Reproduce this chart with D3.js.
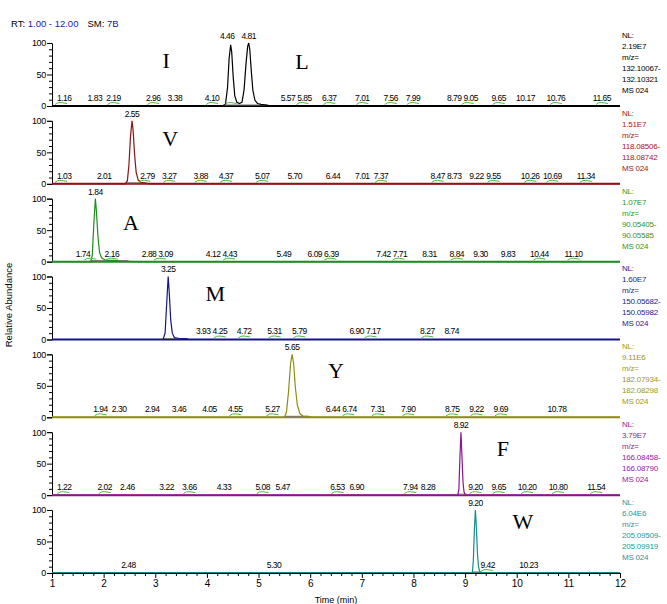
<!DOCTYPE html>
<html>
<head>
<meta charset="utf-8">
<script src="https://cdn.jsdelivr.net/npm/d3@7"></script>
<style>
  html, body { margin: 0; padding: 0; background: #fff; }
  svg { display: block; }
</style>
</head>
<body>
<svg id="chart" width="667" height="604" font-family="Liberation Sans, Arial, sans-serif"></svg>
<script>
// ---- extracted ion chromatograms, one per amino acid ----
const compounds = ["I/L", "V", "A", "M", "Y", "F", "W"];
const nlValues = ["2.19E7", "1.51E7", "1.07E7", "1.60E7", "9.11E6", "3.79E7", "6.04E6"];
const mzLow  = ["132.10067-", "118.08506-", "90.05405-", "150.05682-", "182.07934-", "166.08458-", "205.09509-"];
const mzHigh = ["132.10321", "118.08742", "90.05585", "150.05982", "182.08298", "166.08790", "205.09919"];
const scanType = "MS 024";

// trace points [retention time (min), relative abundance (%)]
const traceIL = [[1,0],[4.30,0],[4.36,3],[4.40,30],[4.43,75],[4.46,97],[4.48,86],[4.51,45],[4.54,16],[4.58,6],[4.63,4],[4.68,6],[4.72,26],[4.76,70],[4.79,95],[4.81,100],[4.83,90],[4.86,55],[4.89,25],[4.93,9],[4.98,4],[5.05,2.5],[5.15,1.5],[5.25,0],[12,0]];
const traceV  = [[1,0],[2.42,0],[2.46,5],[2.49,30],[2.52,75],[2.55,100],[2.57,86],[2.60,46],[2.63,18],[2.67,6],[2.72,2.5],[2.80,1],[2.90,0],[12,0]];
const traceA  = [[1,0],[1.75,0],[1.78,10],[1.81,60],[1.84,100],[1.86,80],[1.89,40],[1.92,15],[1.96,6],[2.02,3],[2.10,2],[2.20,2],[2.30,1],[2.45,0.5],[2.60,0],[12,0]];
const traceM  = [[1,0],[3.15,0],[3.19,10],[3.22,55],[3.25,100],[3.27,75],[3.30,30],[3.33,10],[3.37,3],[3.45,2],[3.60,1.5],[3.65,0],[12,0]];
const traceY  = [[1,0],[5.50,0],[5.54,8],[5.58,40],[5.62,85],[5.65,100],[5.68,85],[5.71,50],[5.75,20],[5.80,6],[5.86,2],[5.95,1.5],[6.05,0],[12,0]];
const traceF  = [[1,0],[8.86,0],[8.88,10],[8.90,60],[8.92,100],[8.94,60],[8.96,20],[8.98,5],[9.00,1],[9.05,0],[12,0]];
const traceW  = [[1,0],[9.14,0],[9.16,20],[9.18,70],[9.20,100],[9.22,70],[9.24,30],[9.26,10],[9.28,3],[9.32,0],[12,0]];
const traces = [traceIL, traceV, traceA, traceM, traceY, traceF, traceW];

// apex labels of the main peaks
const apexIL = ["4.46", "4.81"];
const apexV  = ["2.55"];
const apexA  = ["1.84"];
const apexM  = ["3.25"];
const apexY  = ["5.65"];
const apexF  = ["8.92"];
const apexW  = ["9.20"];
const apexes = [apexIL, apexV, apexA, apexM, apexY, apexF, apexW];

// minor peak labels along the baseline
const minorIL = ["1.16","1.83","2.19","2.96","3.38","4.10","5.57","5.85","6.37","7.01","7.56","7.99","8.79","9.05","9.65","10.17","10.76","11.65"];
const minorV  = ["1.03","2.01","2.79","3.27","3.88","4.37","5.07","5.70","6.44","7.01","7.37","8.47","8.73","9.22","9.55","10.26","10.69","11.34"];
const minorA  = ["1.74","2.16","2.88","3.09","4.12","4.43","5.49","6.09","6.39","7.42","7.71","8.31","8.84","9.30","9.83","10.44","11.10"];
const minorM  = ["3.93","4.25","4.72","5.31","5.79","6.90","7.17","8.27","8.74"];
const minorY  = ["1.94","2.30","2.94","3.46","4.05","4.55","5.27","6.44","6.74","7.31","7.90","8.75","9.22","9.69","10.78"];
const minorF  = ["1.22","2.02","2.46","3.22","3.66","4.33","5.08","5.47","6.53","6.90","7.94","8.28","9.20","9.65","10.20","10.80","11.54"];
const minorW  = ["2.48","5.30","9.42","10.23"];
const minors = [minorIL, minorV, minorA, minorM, minorY, minorF, minorW];

// detected peaks flagged with a marker
const flaggedIL = ["1.16","2.19","2.96","4.10","4.46","5.85","6.37","7.01","7.56","7.99","9.05","9.65","10.76","11.65"];
const flaggedV  = ["1.03","2.79","3.27","3.88","4.37","5.07","7.37","8.47","9.55","10.26","10.69","11.34"];
const flaggedA  = ["1.74","2.16","3.09","4.43","6.39","7.71","8.84","10.44","11.10"];
const flaggedM  = ["4.25","4.72","5.31","5.79","7.17","8.27"];
const flaggedY  = ["1.94","4.55","5.27","6.74","7.31","7.90","8.75","9.22","9.69"];
const flaggedF  = ["1.22","2.02","3.66","5.08","6.53","7.94","9.20","9.65","10.20","10.80","11.54"];
const flaggedW  = ["9.42"];
const flagged = [flaggedIL, flaggedV, flaggedA, flaggedM, flaggedY, flaggedF, flaggedW];

// compound letter placement in data units [rt, %]
const letterIL = [["I", 3.21, 60], ["L", 5.84, 59]];
const letterV  = [["V", 3.29, 60]];
const letterA  = [["A", 2.53, 50]];
const letterM  = [["M", 4.16, 61]];
const letterY  = [["Y", 6.50, 62]];
const letterF  = [["F", 9.73, 62]];
const letterW  = [["W", 10.12, 70]];
const letters = [letterIL, letterV, letterA, letterM, letterY, letterF, letterW];

const xTicks = [1,2,3,4,5,6,7,8,9,10,11,12];
const yTicks = [0, 50, 100];

// ---- styling ----
const lineColors = ["#000000", "#8e1414", "#1f8c1f", "#14148e", "#8e8e14", "#8e148e", "#148e8e"];
const textColors = ["#000000", "#a01818", "#2e9a22", "#1a1a9a", "#9a9a1c", "#9a1a9a", "#1a9a9a"];
const SANS = "Liberation Sans, Arial, sans-serif";
const SERIF = "Liberation Serif, Times New Roman, serif";

const svg = d3.select("#chart");
const left = 52, right = 620;
const firstZero = 106, pitch = 77.83, panelH = 63;

const x = d3.scaleLinear().domain([1, 12]).range([left, right]);

// compact label style used for retention-time annotations
function rtLabel(sel) {
  sel.attr("text-anchor", "middle")
     .attr("font-size", 8.5)
     .attr("letter-spacing", -0.5)
     .attr("fill", "#000");
}

// header
const hdr = svg.append("text").attr("x", 11).attr("y", 27).attr("font-size", 9.5);
hdr.append("tspan").attr("fill", "#000").text("RT: ");
hdr.append("tspan").attr("fill", "#1a1aa0").text("1.00 - 12.00");
hdr.append("tspan").attr("fill", "#000").attr("dx", 9).text("SM: ");
hdr.append("tspan").attr("fill", "#1a1aa0").text("7B");

compounds.forEach((name, i) => {
  const zero = firstZero + i * pitch;
  const y = d3.scaleLinear().domain([0, 100]).range([zero, zero - panelH]);
  const g = svg.append("g").attr("class", "panel").attr("data-compound", name);

  // y axis
  const yAxis = d3.axisLeft(y).tickValues(yTicks).tickSize(5).tickPadding(1);
  const ag = g.append("g").attr("transform", `translate(${left},0)`).call(yAxis);
  ag.attr("font-family", SANS);
  ag.select(".domain").attr("stroke", "#000");
  ag.selectAll("text").attr("font-size", 9).attr("letter-spacing", -0.3).attr("fill", "#000");
  const minorTicks = d3.axisLeft(y).tickValues(d3.range(10, 100, 10).filter(v => v !== 50)).tickSize(3).tickFormat("");
  g.append("g").attr("transform", `translate(${left},0)`).call(minorTicks).select(".domain").remove();

  // baseline
  g.append("line")
    .attr("x1", x(1)).attr("x2", x(12))
    .attr("y1", y(0)).attr("y2", y(0))
    .attr("stroke", lineColors[i]).attr("stroke-width", 2);

  // integration baseline under the main peak
  const pts = traces[i].filter(d => d[1] > 0);
  const x0 = d3.min(pts, d => d[0]) - 0.03, x1 = d3.max(pts, d => d[0]) + 0.03;
  g.append("line")
    .attr("x1", x(x0)).attr("x2", x(x1))
    .attr("y1", y(0) - 1).attr("y2", y(0) - 1)
    .attr("stroke", "#707070").attr("stroke-width", 1);

  // trace
  const line = d3.line().x(d => x(d[0])).y(d => y(d[1]));
  g.append("path").datum(traces[i])
    .attr("fill", "none")
    .attr("stroke", lineColors[i])
    .attr("stroke-width", 1.2)
    .attr("d", line);

  // flagged peak markers (kept inside the plot area)
  const flag = new Set(flagged[i]);
  const marks = minors[i].concat(apexes[i]).filter(l => flag.has(l));
  g.selectAll("path.flag").data(marks).join("path")
    .attr("class", "flag")
    .attr("fill", "none").attr("stroke", "#4cbb3c").attr("stroke-width", 1)
    .attr("d", l => {
      const cx = Math.max(x(+l), left + 9), by = y(0) - 1.5;
      return `M${cx - 6},${by} Q${cx - 3},${by - 2.5} ${cx},${by - 2} T${cx + 6},${by - 1}`;
    });

  // region occupied by the main peak (pixels), kept clear of baseline labels
  const tall = traces[i].filter(d => d[1] >= 5);
  const peakL = x(d3.min(tall, d => d[0])) - 1, peakR = x(d3.max(tall, d => d[0])) + 1;

  // minor labels, nudged clear of the axis, the peak and each other
  const minorSel = g.selectAll("text.minor").data(minors[i]).join("text")
    .attr("class", "minor")
    .attr("x", l => x(+l)).attr("y", y(0) - 5)
    .call(rtLabel)
    .text(l => l);
  const boxes = [];
  minorSel.each(function(l) {
    const w = this.getComputedTextLength();
    let cx = x(+l);
    if (cx + w / 2 > peakL && cx - w / 2 < peakR) {
      cx = (cx < (peakL + peakR) / 2) ? peakL - w / 2 - 1 : peakR + w / 2 + 1;
    }
    cx = Math.max(cx, left + 5 + w / 2);
    boxes.push({ node: this, cx, w });
  });
  boxes.sort((a, b) => a.cx - b.cx);
  for (let k = 1; k < boxes.length; k++) {
    const prev = boxes[k - 1], cur = boxes[k];
    const minGap = prev.w / 2 + cur.w / 2 + 2;
    if (cur.cx - prev.cx < minGap) cur.cx = prev.cx + minGap;
  }
  boxes.forEach(b => d3.select(b.node).attr("x", b.cx));

  // apex labels; when two collide the earlier one moves left
  const apexSel = g.selectAll("text.apex").data(apexes[i]).join("text")
    .attr("class", "apex")
    .attr("x", l => x(+l)).attr("y", y(100) - 4)
    .call(rtLabel)
    .text(l => l);
  const aBoxes = [];
  apexSel.each(function(l) { aBoxes.push({ node: this, cx: x(+l), w: this.getComputedTextLength() }); });
  aBoxes.sort((a, b) => a.cx - b.cx);
  for (let k = aBoxes.length - 2; k >= 0; k--) {
    const cur = aBoxes[k], nxt = aBoxes[k + 1];
    const minGap = cur.w / 2 + nxt.w / 2 + 7;
    if (nxt.cx - cur.cx < minGap) cur.cx = nxt.cx - minGap;
  }
  aBoxes.forEach(b => d3.select(b.node).attr("x", b.cx));

  // compound letters
  g.selectAll("text.letter").data(letters[i]).join("text")
    .attr("class", "letter")
    .attr("x", d => x(d[1])).attr("y", d => y(d[2]))
    .attr("text-anchor", "middle")
    .attr("font-family", SERIF)
    .attr("font-size", 22).attr("fill", "#000")
    .text(d => d[0]);

  // normalisation level / mass range block
  const info = ["NL:", nlValues[i], "m/z=", mzLow[i], mzHigh[i], scanType];
  g.selectAll("text.info").data(info).join("text")
    .attr("class", "info")
    .attr("x", right + 2)
    .attr("y", (d, k) => y(100) - 5 + k * 11)
    .attr("font-size", 8).attr("letter-spacing", -0.2).attr("fill", textColors[i])
    .text(d => d);

  // time axis on the bottom panel
  if (i === compounds.length - 1) {
    const xa = d3.axisBottom(x).tickValues(xTicks).tickSize(5).tickPadding(2).tickFormat(d3.format("d"));
    const xg = g.append("g").attr("transform", `translate(0,${zero})`).call(xa);
    xg.attr("font-family", SANS);
    xg.selectAll("text").attr("font-size", 10).attr("fill", "#000");
    const xm = d3.axisBottom(x).tickValues(d3.range(1.2, 12, 0.2).filter(v => Math.abs(v - Math.round(v)) > 0.01)).tickSize(3).tickFormat("");
    g.append("g").attr("transform", `translate(0,${zero})`).call(xm).select(".domain").remove();
    svg.append("text").attr("x", (left + right) / 2).attr("y", zero + 30)
      .attr("text-anchor", "middle").attr("font-size", 9).text("Time (min)");
  }
});

// shared y label
svg.append("text")
  .attr("transform", "translate(12,305) rotate(-90)")
  .attr("text-anchor", "middle").attr("font-size", 9.5)
  .text("Relative Abundance");
</script>
</body>
</html>
